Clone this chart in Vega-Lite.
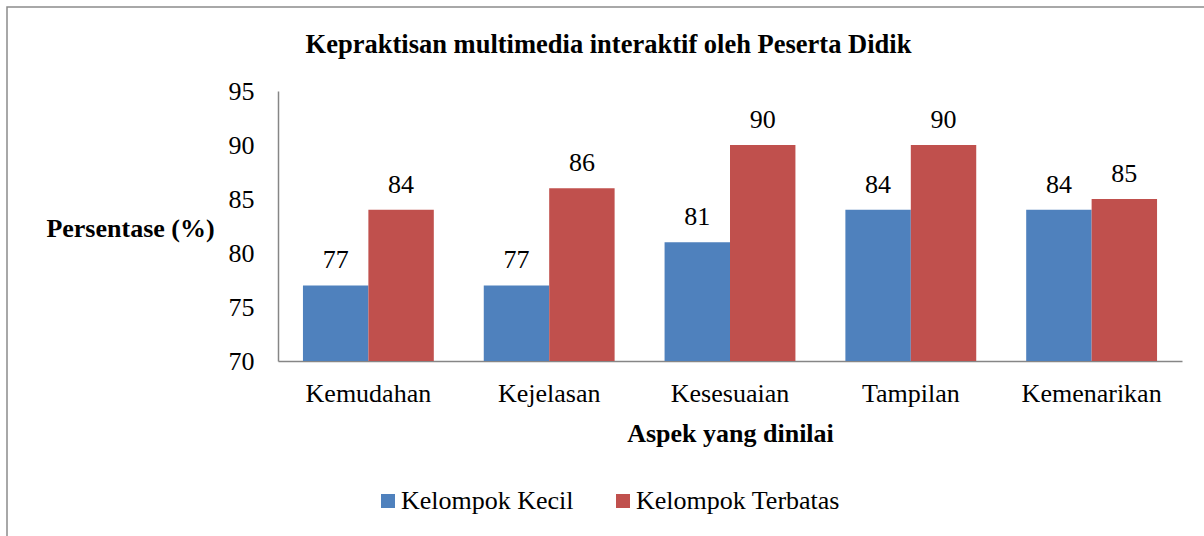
{
  "$schema": "https://vega.github.io/schema/vega-lite/v6.json",
  "width": 1199,
  "height": 531,
  "autosize": {"type": "none"},
  "padding": {"left": 7, "top": 7, "right": -2, "bottom": -2},
  "background": "white",
  "config": {
    "view": {"stroke": "#8c8c8c", "strokeWidth": 1.5},
    "font": "Liberation Serif"
  },
  "title": {
    "text": "Kepraktisan multimedia interaktif oleh Peserta Didik",
    "font": "Liberation Serif",
    "fontSize": 26.5,
    "fontWeight": "bold",
    "color": "black",
    "anchor": "middle",
    "baseline": "alphabetic",
    "offset": -45,
    "dy": 27,
    "dx": 2
  },
  "data": {
    "values": [
      {"aspek": "Kemudahan", "kelompok": "Kelompok Kecil", "nilai": 77},
      {"aspek": "Kemudahan", "kelompok": "Kelompok Terbatas", "nilai": 84},
      {"aspek": "Kejelasan", "kelompok": "Kelompok Kecil", "nilai": 77},
      {"aspek": "Kejelasan", "kelompok": "Kelompok Terbatas", "nilai": 86},
      {"aspek": "Kesesuaian", "kelompok": "Kelompok Kecil", "nilai": 81},
      {"aspek": "Kesesuaian", "kelompok": "Kelompok Terbatas", "nilai": 90},
      {"aspek": "Tampilan", "kelompok": "Kelompok Kecil", "nilai": 84},
      {"aspek": "Tampilan", "kelompok": "Kelompok Terbatas", "nilai": 90},
      {"aspek": "Kemenarikan", "kelompok": "Kelompok Kecil", "nilai": 84},
      {"aspek": "Kemenarikan", "kelompok": "Kelompok Terbatas", "nilai": 85}
    ]
  },
  "encoding": {
    "x": {
      "field": "aspek",
      "type": "nominal",
      "sort": ["Kemudahan", "Kejelasan", "Kesesuaian", "Tampilan", "Kemenarikan"],
      "scale": {"range": [271, 1175], "paddingInner": 0.2763, "paddingOuter": 0.138},
      "axis": {
        "orient": "bottom",
        "offset": -177,
        "ticks": false,
        "tickSize": 0,
        "grid": false,
        "labelAngle": 0,
        "labelFont": "Liberation Serif",
        "labelFontSize": 26,
        "labelColor": "black",
        "labelBaseline": "alphabetic",
        "labelPadding": 40,
        "labelOverlap": false,
        "domainColor": "#868686",
        "domainWidth": 1.5,
        "title": "Aspek yang dinilai",
        "titleFont": "Liberation Serif",
        "titleFontSize": 26,
        "titleFontWeight": "bold",
        "titleColor": "black",
        "titleX": 723,
        "titleY": 72,
        "titleAlign": "center",
        "titleBaseline": "middle"
      }
    },
    "xOffset": {
      "field": "kelompok",
      "type": "nominal",
      "sort": ["Kelompok Kecil", "Kelompok Terbatas"],
      "scale": {"paddingInner": 0, "paddingOuter": 0}
    },
    "y": {
      "field": "nilai",
      "type": "quantitative",
      "scale": {"domain": [70, 95], "range": [354, 84], "nice": false, "zero": false},
      "axis": {
        "orient": "left",
        "offset": -271,
        "values": [70, 75, 80, 85, 90, 95],
        "ticks": false,
        "tickSize": 0,
        "grid": false,
        "labelFont": "Liberation Serif",
        "labelFontSize": 26,
        "labelColor": "black",
        "labelPadding": 24,
        "labelBaseline": "middle",
        "labelOverlap": false,
        "domainColor": "#868686",
        "domainWidth": 1.5,
        "title": "Persentase (%)",
        "titleFont": "Liberation Serif",
        "titleFontSize": 26,
        "titleFontWeight": "bold",
        "titleColor": "black",
        "titleAngle": 0,
        "titleX": -148,
        "titleY": 221,
        "titleAlign": "center",
        "titleBaseline": "middle"
      }
    }
  },
  "layer": [
    {
      "mark": {"type": "bar"},
      "encoding": {
        "y2": {"datum": 70},
        "color": {
          "field": "kelompok",
          "type": "nominal",
          "scale": {"domain": ["Kelompok Kecil", "Kelompok Terbatas"], "range": ["#4F81BD", "#C0504D"]},
          "legend": {
            "orient": "none",
            "legendX": 368,
            "legendY": 481,
            "direction": "horizontal",
            "title": null,
            "symbolType": "square",
            "symbolSize": 196,
            "symbolStrokeWidth": 0,
            "symbolOpacity": 1,
            "labelFont": "Liberation Serif",
            "labelFontSize": 26,
            "labelColor": "black",
            "labelLimit": 400,
            "labelOffset": 0,
            "columnPadding": 36
          }
        }
      }
    },
    {
      "mark": {"type": "text", "baseline": "alphabetic", "dy": -17, "font": "Liberation Serif", "fontSize": 26, "color": "black"},
      "encoding": {"text": {"field": "nilai", "type": "quantitative"}}
    }
  ]
}
